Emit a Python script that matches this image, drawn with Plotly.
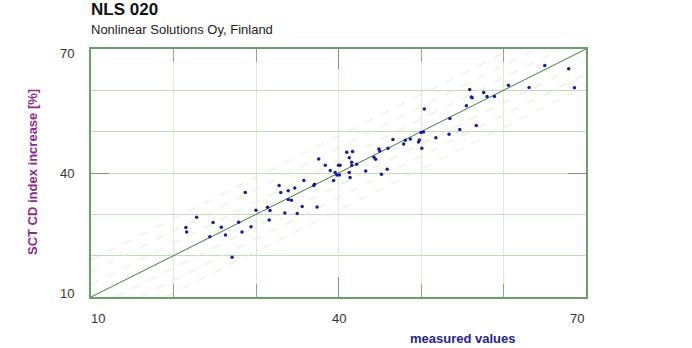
import plotly.graph_objects as go

# ---- data ----
measured = [21.5, 21.6, 22.8, 24.4, 24.8, 25.8, 26.3, 27.1, 27.9, 28.3,
            28.7, 29.4, 30.0, 31.4, 31.7, 31.6, 32.8, 33.0, 33.9, 34.7,
            33.9, 34.3, 33.5, 35.0, 35.6, 35.8, 37.4, 37.1, 37.0, 39.4,
            39.0, 39.6, 39.8, 40.1, 37.6, 38.4, 40.0, 40.2, 41.3, 41.4,
            41.0, 41.3, 41.6, 41.6, 41.7, 42.2, 43.3, 44.3, 44.5, 44.9,
            45.0, 45.2, 45.9, 46.0, 46.6, 47.9, 48.1, 48.7, 49.8, 49.7,
            50.1, 50.0, 50.3, 50.4, 51.8, 53.4, 53.5, 54.7, 55.5, 55.9,
            56.1, 56.2, 56.7, 57.6, 58.0, 58.9, 60.6, 63.1, 65.0, 67.9,
            68.6]
predicted = [26.8, 25.7, 29.3, 24.6, 28.0, 26.9, 25.0, 19.6, 28.1, 25.7,
             35.3, 27.0, 31.0, 31.7, 30.9, 28.6, 37.0, 35.3, 35.7, 36.4,
             33.6, 33.4, 30.3, 30.2, 31.9, 38.2, 31.8, 37.3, 37.0, 38.2,
             40.6, 40.1, 39.5, 39.5, 43.4, 41.9, 41.9, 41.9, 40.1, 38.9,
             45.0, 43.7, 42.6, 41.8, 45.2, 42.1, 40.5, 43.8, 43.3, 45.8,
             45.3, 39.7, 40.9, 46.0, 48.1, 47.0, 47.9, 48.2, 48.0, 47.5,
             46.0, 49.8, 49.9, 55.5, 48.5, 49.4, 53.2, 50.5, 56.3, 60.2,
             58.4, 58.2, 51.5, 59.5, 58.5, 58.5, 61.2, 60.7, 66.0, 65.2,
             60.6]

axis_min, axis_max = 10, 70
tick_values = [10, 40, 70]
tick_labels = ["10", "40", "70"]
band_offsets = [-9, -6, -3, 3, 6, 9]

title_text = "NLS 020"
subtitle_text = "Nonlinear Solutions Oy, Finland"
x_title = "measured values"
y_title = "SCT CD index increase [%]"

FONT = "Liberation Sans, Arial, sans-serif"

fig = go.Figure()

# dashed bands parallel to the 1:1 line
for d in band_offsets:
    x0 = max(axis_min, axis_min - d)
    x1 = min(axis_max, axis_max - d)
    fig.add_trace(go.Scatter(
        x=[x0, x1], y=[x0 + d, x1 + d], mode="lines",
        line=dict(color="#e0eed2", width=1, dash="dash"),
        hoverinfo="skip", showlegend=False))

# 1:1 line
fig.add_trace(go.Scatter(
    x=[axis_min, axis_max], y=[axis_min, axis_max], mode="lines",
    line=dict(color="#3f7f3f", width=1), hoverinfo="skip", showlegend=False))

# data points
fig.add_trace(go.Scatter(
    x=measured, y=predicted, mode="markers",
    marker=dict(color="#1c1c9c", size=3.5, symbol="circle"),
    showlegend=False))

axis_common = dict(
    range=[axis_min, axis_max], tickvals=tick_values, showticklabels=False,
    ticks="inside", tickcolor="#6f9f6f", tickwidth=1,
    showline=True, linecolor="#6a9e6a", linewidth=2, mirror="ticks",
    zeroline=False,
)

fig.update_xaxes(
    **axis_common, ticklen=20,
    showgrid=True, gridcolor="#dbebd5", gridwidth=1,
    minor=dict(dtick=10, tick0=10, ticks="inside", ticklen=13,
               tickcolor="#7fae7f", showgrid=True, gridcolor="#dbebd5"),
)
fig.update_yaxes(
    **axis_common, ticklen=18,
    showgrid=True, gridcolor="#c3dbbb", gridwidth=1,
    minor=dict(dtick=10, tick0=10, ticks="", showgrid=True, gridcolor="#c3dbbb"),
)

annotations = []
# x tick labels
for i, (v, t) in enumerate(zip(tick_values, tick_labels)):
    anchor = "left" if i == 0 else ("right" if i == len(tick_values) - 1 else "center")
    annotations.append(dict(
        x=v, y=0, xref="x", yref="paper", text=t, showarrow=False,
        xanchor=anchor, yanchor="middle", yshift=-21, xshift=-2 if i == 0 else 0,
        font=dict(family=FONT, size=13, color="#333333")))
# y tick labels
for i, (v, t) in enumerate(zip(tick_values, tick_labels)):
    anchor = "bottom" if i == 0 else ("top" if i == len(tick_values) - 1 else "middle")
    shift = -6 if i == 0 else (5 if i == len(tick_values) - 1 else 0)
    annotations.append(dict(
        x=0, y=v, xref="paper", yref="y", text=t, showarrow=False,
        xanchor="right", yanchor=anchor, xshift=-15, yshift=shift,
        font=dict(family=FONT, size=13, color="#333333")))

# titles
annotations.append(dict(
    x=0, y=(297 - 9) / 248, xref="paper", yref="paper", text="<b>" + title_text + "</b>",
    showarrow=False, xanchor="left", yanchor="middle", xshift=-2, yshift=-1,
    font=dict(family=FONT, size=17, color="#111111")))
annotations.append(dict(
    x=0, y=(297 - 29) / 248, xref="paper", yref="paper", text=subtitle_text,
    showarrow=False, xanchor="left", yanchor="middle", xshift=-2,
    font=dict(family=FONT, size=13, color="#222222")))
annotations.append(dict(
    x=(462.5 - 91) / 495, y=0, xref="paper", yref="paper", text="<b>" + x_title + "</b>",
    showarrow=False, xanchor="center", yanchor="middle", yshift=-41.5,
    font=dict(family=FONT, size=13, color="#1f2590")))
annotations.append(dict(
    x=0, y=(297 - 172.5) / 248, xref="paper", yref="paper", text="<b>" + y_title + "</b>",
    showarrow=False, xanchor="center", yanchor="middle", xshift=-58.5, textangle=-90,
    font=dict(family=FONT, size=13, color="#8e2a8e")))

fig.update_layout(
    width=692, height=348,
    margin=dict(l=91, r=106, t=49, b=51),
    paper_bgcolor="white", plot_bgcolor="white",
    annotations=annotations,
    showlegend=False,
)

fig.write_html("out.html")
